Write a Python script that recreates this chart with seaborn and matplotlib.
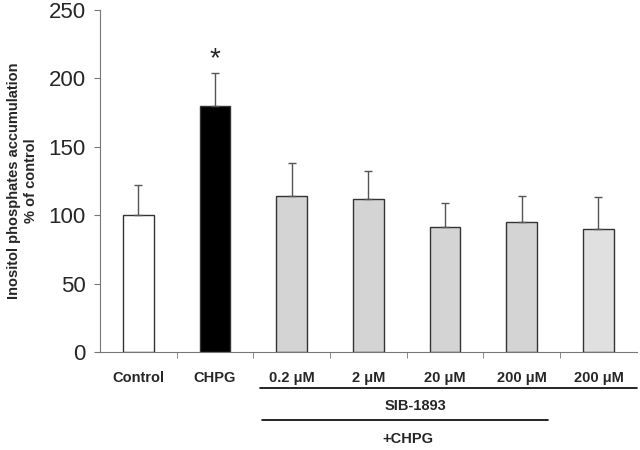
import numpy as np
import pandas as pd
import matplotlib
matplotlib.use('Agg')
import matplotlib.pyplot as plt
import seaborn as sns

# data
conditions = ['Control', 'CHPG', 'SIB 0.2', 'SIB 2', 'SIB 20', 'SIB 200 +CHPG', 'SIB 200']
tick_labels = ['Control', 'CHPG', '0.2 \u03bcM', '2 \u03bcM', '20 \u03bcM', '200 \u03bcM', '200 \u03bcM']
means = [100, 180, 114, 112, 91, 95, 90]
errors = [22, 24, 24, 20, 18, 19, 23]
bar_colors = ['white', 'black', '#d4d4d4', '#d4d4d4', '#d4d4d4', '#d4d4d4', '#e0e0e0']

sns.set_style('white')
plt.rcParams['font.family'] = ['Liberation Sans', 'DejaVu Sans']

df = pd.DataFrame({'condition': conditions, 'value': means})

fig = plt.figure(figsize=(6.4, 4.5), dpi=100)
ax = fig.add_axes([0.156, 0.218, 0.839, 0.76])

sns.barplot(data=df, x='condition', y='value', order=conditions,
            hue='condition', palette=bar_colors, legend=False, saturation=1,
            width=0.4, edgecolor='#333333', linewidth=1.0, ax=ax)

x = np.arange(len(conditions))
ax.errorbar(x, means, yerr=[np.zeros(len(errors)), errors], fmt='none',
            ecolor='#555555', elinewidth=1.0, capsize=3, capthick=1.0)

ax.text(1, 214, '*', ha='center', va='center', fontsize=20)

ax.set_xlim(-0.5, len(conditions) - 0.5)
ax.set_ylim(0, 250)
ax.set_yticks([0, 50, 100, 150, 200, 250])
ax.tick_params(axis='y', labelsize=16, length=4, direction='out', left=True,
               color='#777777', pad=6)
ax.set_xticks(x)
ax.set_xticklabels(tick_labels, fontweight='bold', fontsize=10.5)
ax.tick_params(axis='x', length=0, pad=14)
ax.set_xticks(np.arange(len(conditions) - 1) + 0.5, minor=True)
ax.tick_params(axis='x', which='minor', length=4, direction='out', bottom=True,
               color='#777777')
ax.set_xlabel('')
ax.set_ylabel('Inositol phosphates accumulation\n% of control',
              fontweight='bold', fontsize=10.5, labelpad=8)

for side in ['top', 'right']:
    ax.spines[side].set_visible(False)
for side in ['left', 'bottom']:
    ax.spines[side].set_color('#777777')
    ax.spines[side].set_linewidth(0.8)

# group brackets below the tick labels
fig.add_artist(plt.Line2D([260 / 640, 637 / 640], [1 - 388 / 450] * 2,
                          color='black', linewidth=1.2))
fig.text(415 / 640, 1 - 406 / 450, 'SIB-1893', ha='center', va='center',
         fontweight='bold', fontsize=10.5)
fig.add_artist(plt.Line2D([262 / 640, 548 / 640], [1 - 420 / 450] * 2,
                          color='black', linewidth=1.2))
fig.text(408 / 640, 1 - 439 / 450, '+CHPG', ha='center', va='center',
         fontweight='bold', fontsize=10.5)

plt.savefig('out.png', dpi=100)
